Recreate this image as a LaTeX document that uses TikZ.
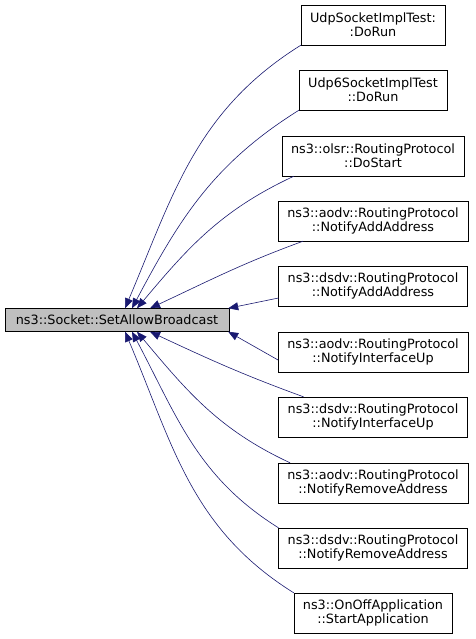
\documentclass[tikz,border=0pt]{standalone}
\usepackage{fontspec}
\setmainfont{DejaVu Sans}
\usetikzlibrary{arrows.meta, positioning}
\definecolor{edgeBlue}{HTML}{191970}
\definecolor{mainGray}{HTML}{BFBFBF}
\tikzset{
  arrowB/.style={-{Triangle[length=10pt, width=8pt]}, edgeBlue, semithick},
  boxC/.style={rectangle, draw=black, fill=white, align=center,
               font=\fontsize{12.8}{14}\selectfont, inner xsep=9pt,
               inner ysep=2pt, minimum height=40pt},
  boxMain/.style={rectangle, draw=black, fill=mainGray, align=center,
                  font=\fontsize{12.8}{14}\selectfont, minimum width=224pt,
                  minimum height=23pt, inner sep=1pt},
}
\begin{document}
\begin{tikzpicture}[x=1pt, y=-1pt]
  \useasboundingbox (0,0) rectangle (475,639);
  \node[boxMain] (m) at (117,320) {ns3::Socket::SetAllowBroadcast};
  % callers
  \node[boxC] (c1) at (373,25) {UdpSocketImplTest:\\:DoRun};
  \node[boxC] (c2) at (373,90) {Udp6SocketImplTest\\::DoRun};
  \node[boxC] (c3) at (373,156) {ns3::olsr::RoutingProtocol\\::DoStart};
  \node[boxC] (c4) at (373,221) {ns3::aodv::RoutingProtocol\\::NotifyAddAddress};
  \node[boxC] (c5) at (373,286) {ns3::dsdv::RoutingProtocol\\::NotifyAddAddress};
  \node[boxC] (c6) at (373,352) {ns3::aodv::RoutingProtocol\\::NotifyInterfaceUp};
  \node[boxC] (c7) at (373,417) {ns3::dsdv::RoutingProtocol\\::NotifyInterfaceUp};
  \node[boxC] (c8) at (373,483) {ns3::aodv::RoutingProtocol\\::NotifyRemoveAddress};
  \node[boxC] (c9) at (373,548) {ns3::dsdv::RoutingProtocol\\::NotifyRemoveAddress};
  \node[boxC] (c10) at (373,613) {ns3::OnOffApplication\\::StartApplication};
  % edges
  \draw[arrowB] (c1.south west) to[out=212, in=67] ([xshift=8pt]m.north);
  \draw[arrowB] (c2.south west) to[out=212, in=62] ([xshift=15pt]m.north);
  \draw[arrowB] ([xshift=12pt]c3.south west) to[out=205, in=50] ([xshift=20pt]m.north);
  \draw[arrowB] ([xshift=25pt]c4.south west) to[out=200, in=25] ([xshift=33pt]m.north);
  \draw[arrowB] ([yshift=-12pt]c5.west) -- ([xshift=-1pt]m.north east);
  \draw[arrowB] ([yshift=-8pt]c6.west) -- ([xshift=-1pt]m.south east);
  \draw[arrowB] ([xshift=25pt]c7.north west) to[out=160, in=-25] ([xshift=33pt]m.south);
  \draw[arrowB] ([xshift=12pt]c8.north west) to[out=155, in=-50] ([xshift=20pt]m.south);
  \draw[arrowB] (c9.north west) to[out=148, in=-62] ([xshift=15pt]m.south);
  \draw[arrowB] (c10.north west) to[out=148, in=-67] ([xshift=8pt]m.south);
\end{tikzpicture}
\end{document}
